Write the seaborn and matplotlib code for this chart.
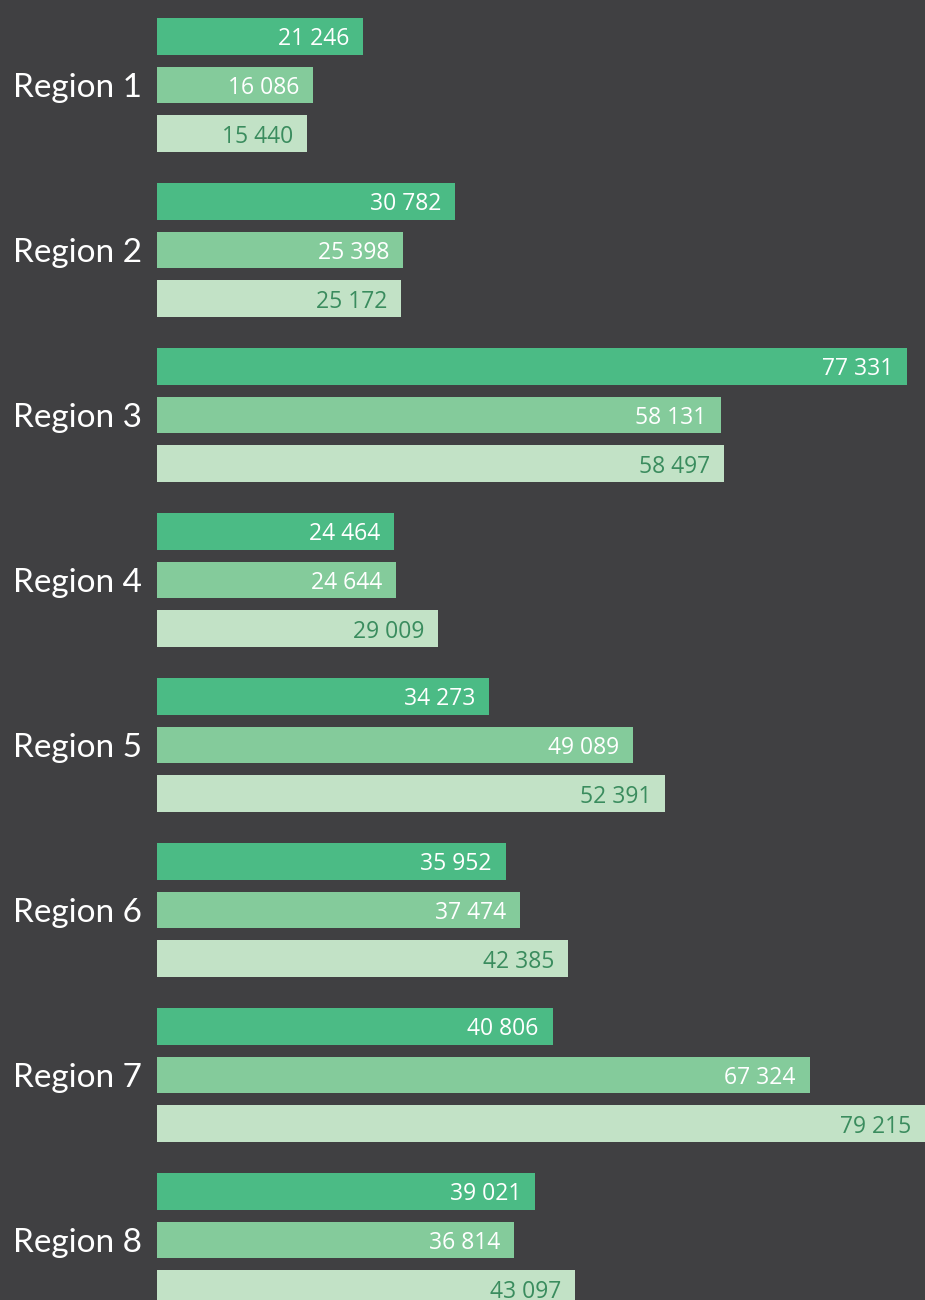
import matplotlib
matplotlib.use("Agg")
import matplotlib.pyplot as plt
import seaborn as sns
import pandas as pd

regions = ["Region 1", "Region 2", "Region 3", "Region 4",
           "Region 5", "Region 6", "Region 7", "Region 8"]
series_a = [21246, 30782, 77331, 24464, 34273, 35952, 40806, 39021]
series_b = [16086, 25398, 58131, 24644, 49089, 37474, 67324, 36814]
series_c = [15440, 25172, 58497, 29009, 52391, 42385, 79215, 43097]
series_names = ["A", "B", "C"]

bar_colors = ["#4bbb85", "#84cb9b", "#c2e2c6"]
label_colors = ["white", "white", "#3a8c5e"]
bg = "#404042"

df = pd.DataFrame({
    "region": regions * 3,
    "series": [series_names[0]] * 8 + [series_names[1]] * 8 + [series_names[2]] * 8,
    "value": series_a + series_b + series_c,
})

sns.set_theme(style="white")
plt.rcParams["font.family"] = ["Lato", "DejaVu Sans"]

fig = plt.figure(figsize=(9.25, 13), dpi=100, facecolor=bg)
ax = fig.add_axes([157 / 925, 0, 1 - 157 / 925, 1])
ax.set_facecolor(bg)

sns.barplot(data=df, y="region", x="value", hue="series", orient="h",
            palette=bar_colors, width=0.885, gap=0.25, legend=False,
            saturation=1, linewidth=0, ax=ax)

ax.set_xlim(0, 79215)
ax.set_ylim(7 + 60 / 165, -85 / 165)

# value labels inside the bar ends
for cont, col in zip(ax.containers, label_colors):
    for p in cont.patches:
        w = p.get_width()
        yc = p.get_y() + p.get_height() / 2
        ax.annotate(f"{int(round(w)):,}".replace(",", " "), (w, yc),
                    xytext=(-10, 0), textcoords="offset points",
                    ha="right", va="center_baseline", color=col, fontsize=16.5,
                    family=["Open Sans", "DejaVu Sans"])

ax.set_xlabel("")
ax.set_ylabel("")
ax.set_xticks([])
ax.tick_params(axis="y", length=0, pad=11, labelsize=24, labelcolor="white")
for s in ax.spines.values():
    s.set_visible(False)

fig.savefig("out.png", dpi=100, facecolor=bg)
